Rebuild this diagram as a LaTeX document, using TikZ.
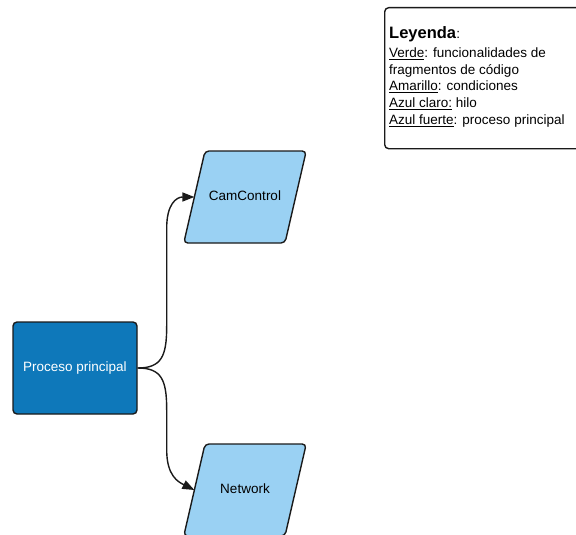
\documentclass[tikz,border=0pt]{standalone}
\usepackage{fontspec}
\setmainfont{Liberation Sans}
\usetikzlibrary{arrows.meta,shapes.geometric}
\definecolor{mainblue}{RGB}{14,120,186}
\definecolor{threadblue}{RGB}{154,209,243}
\definecolor{edgeink}{RGB}{26,26,26}

\begin{document}
\begin{tikzpicture}[
  x=1pt, y=-1pt,
  font=\fontsize{13.5}{16.7}\selectfont,
  conn/.style={-{Triangle[length=12pt,width=9pt]}, line width=1.4pt, draw=edgeink},
  mainproc/.style={draw=edgeink, line width=1.4pt, fill=mainblue, rounded corners=4pt, text=white, minimum width=124pt, minimum height=92pt},
  thread/.style={trapezium, trapezium left angle=77, trapezium right angle=103, draw=edgeink, line width=1.4pt, fill=threadblue, rounded corners=4pt, text width=80pt, align=center, text height=10pt, text depth=3pt, inner xsep=0pt, inner ysep=39.5pt, outer sep=0pt},
  legendbox/.style={draw=edgeink, line width=1.4pt, rounded corners=4pt, minimum width=200pt, minimum height=141pt, anchor=north west}
]
\useasboundingbox (0,0) rectangle (576,535);

\node[legendbox] (legend) at (384,7) {};
\node[anchor=base west, inner sep=0pt] (legtitle) at (389,39) {\fontsize{16.5}{19}\selectfont\textbf{Leyenda}\fontsize{13.5}{16.7}\selectfont:};
\node[anchor=north west, inner sep=0pt, align=left] (legbody) at (389,47.5) {%
  \underline{Verde}: funcionalidades de\\
  fragmentos de código\\
  \underline{Amarillo}: condiciones\\
  \underline{Azul claro:} hilo\\
  \underline{Azul fuerte}: proceso principal};

\node[mainproc] (proc) at (75,368) {Proceso principal};
\node[thread] (cam) at (245,197) {CamControl};
\node[thread] (net) at (245,490) {Network};

\draw[conn] (proc.east) .. controls +(24,0) and +(0,30) .. ++(29,-42)
  -- ++(0,-98) .. controls +(0,-24) and +(-18,0) .. (cam.west);
\draw[conn] (proc.east) .. controls +(24,0) and +(0,-30) .. ++(29,42)
  -- ++(0,40) .. controls +(0,26) and +(-16,-8) .. (net.west);
\end{tikzpicture}
\end{document}
